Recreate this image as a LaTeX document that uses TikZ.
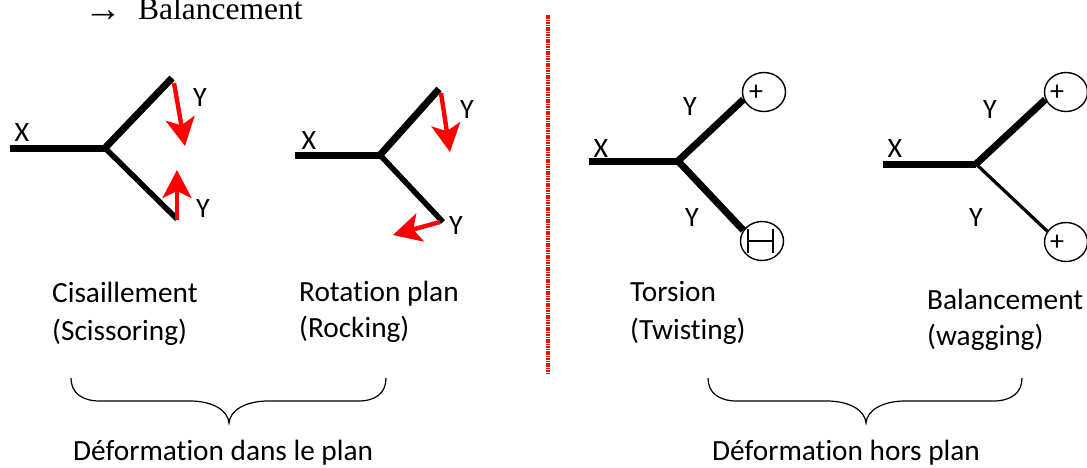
\documentclass[tikz,border=0pt]{standalone}
\usepackage{fontspec}
\setmainfont[Ligatures=NoCommon]{Carlito}
\newfontfamily\timesf{Liberation Serif}
\usetikzlibrary{arrows.meta,shapes.geometric}
\tikzset{
 thick bond/.style={line width=7pt,line cap=butt},
 mid bond/.style={line width=5.5pt,line cap=butt},
 thin bond/.style={line width=3.2pt,line cap=butt},
 redarrow/.style={draw=red,line width=4.4pt,-{Stealth[length=28pt,width=29pt,inset=7pt]}},
 lab/.style={font=\fontsize{29.3}{32}\selectfont,inner sep=0pt,anchor=base west,align=left},
 atom/.style={font=\fontsize{28}{30}\selectfont,inner sep=0pt},
 ring/.style={draw,line width=1.4pt,ellipse,minimum width=43pt,minimum height=39pt,inner sep=0pt},
 topt/.style={inner sep=0pt,anchor=base west,font=\timesf\fontsize{31.5}{34}\selectfont},
 brace/.style={draw,line width=1.2pt},
}
\begin{document}
\begin{tikzpicture}[x=1pt,y=-1pt]
\useasboundingbox (0,0) rectangle (1087,467);
\clip (0,0) rectangle (1087,467);
% top text
\node[topt,font=\timesf\fontsize{38}{40}\selectfont] (top) at (84,21) {→};
\node[topt] (topb) at (138,19) {Balancement};
% separator
\coordinate (s1) at (548,15);
\coordinate (s2) at (548,374);
\draw[red,line width=3.6pt,dash pattern=on 1.6pt off 0.8pt] (s1) -- (s2);
% molecule 1
\coordinate (c1) at (105,148); \coordinate (x1) at (10,148);
\coordinate (u1) at (172,78); \coordinate (d1) at (177,219);
\draw[thick bond] (x1) -- (c1);
\draw[thick bond] (c1) -- (u1);
\draw[mid bond] (c1) -- (d1);
\node[atom] (X1) at (22,133) {X};
\node[atom] (Y1a) at (200,98) {Y};
\node[atom] (Y1b) at (203,209) {Y};
\coordinate (a1s) at (174,83); \coordinate (a1e) at (185,146);
\coordinate (a2s) at (177,220); \coordinate (a2e) at (177,170);
\draw[redarrow] (a1s) -- (a1e);
\draw[redarrow] (a2s) -- (a2e);
% molecule 2
\coordinate (c2) at (380,155); \coordinate (x2) at (295,155);
\coordinate (u2) at (439,89); \coordinate (d2) at (443,222);
\draw[thick bond] (x2) -- (c2);
\draw[thick bond] (c2) -- (u2);
\draw[mid bond] (c2) -- (d2);
\node[atom] (X2) at (309,141) {X};
\node[atom] (Y2a) at (467,110) {Y};
\node[atom] (Y2b) at (456,226) {Y};
\coordinate (a3s) at (441,93); \coordinate (a3e) at (450,152);
\coordinate (a4s) at (440,222); \coordinate (a4e) at (393,235);
\draw[redarrow] (a3s) -- (a3e);
\draw[redarrow] (a4s) -- (a4e);
% molecule 3
\node[ring] (p3) at (764,92) {};
\node[ring] (m3) at (762,241) {};
\node[atom] (p3t) at (756,93) {+};
\coordinate (mh1) at (748,241); \coordinate (mh2) at (773,241);
\coordinate (mb1) at (748,229); \coordinate (mb2) at (748,253);
\coordinate (mb3) at (773,229); \coordinate (mb4) at (773,253);
\draw[line width=1.2pt] (mh1) -- (mh2) (mb1) -- (mb2) (mb3) -- (mb4);
\coordinate (c3) at (678,161); \coordinate (x3) at (589,161);
\draw[thick bond] (x3) -- (c3);
\draw[thick bond] (c3) -- (p3.200);
\draw[thick bond] (c3) -- (m3.150);
\node[atom] (X3) at (601,149) {X};
\node[atom] (Y3a) at (690,107) {Y};
\node[atom] (Y3b) at (692,218) {Y};
% molecule 4
\node[ring] (p4) at (1066,92) {};
\node[ring] (q4) at (1066,242) {};
\node[atom] (p4t) at (1057,93) {+};
\node[atom] (q4t) at (1057,243) {+};
\coordinate (c4) at (976,164); \coordinate (x4) at (883,164);
\draw[thick bond] (x4) -- (c4);
\draw[thick bond] (c4) -- (p4.200);
\draw[thin bond] (c4) -- (q4.150);
\node[atom] (X4) at (895,149) {X};
\node[atom] (Y4a) at (990,110) {Y};
\node[atom] (Y4b) at (976,218) {Y};
% labels
\node[lab] (t1) at (52,302) {Cisaillement};
\node[lab] (t1b) at (52,340) {(Scissoring)};
\node[lab] (t2) at (299,301) {Rotation plan};
\node[lab] (t2b) at (299,337) {(Rocking)};
\node[lab] (t3) at (630,301) {Torsion};
\node[lab] (t3b) at (630,339) {(Twisting)};
\node[lab] (t4) at (927,309) {Balancement};
\node[lab] (t4b) at (927,345) {(wagging)};
\node[lab] (d1t) at (73,460.5) {Déformation dans le plan};
\node[lab] (d2t) at (712,460.5) {Déformation hors plan};
% braces
\draw[brace] (71,378) .. controls (71,393) and (82,401) .. (100,401)
 -- (190,401) .. controls (212,401) and (228,410) .. (229,423)
 .. controls (230,410) and (246,401) .. (268,401)
 -- (358,401) .. controls (376,401) and (386,393) .. (386,378);
\draw[brace] (708,378) .. controls (708,393) and (719,401) .. (737,401)
 -- (827,401) .. controls (849,401) and (865,410) .. (866,423)
 .. controls (867,410) and (883,401) .. (905,401)
 -- (993,401) .. controls (1011,401) and (1022,393) .. (1022,378);
\end{tikzpicture}
\end{document}
